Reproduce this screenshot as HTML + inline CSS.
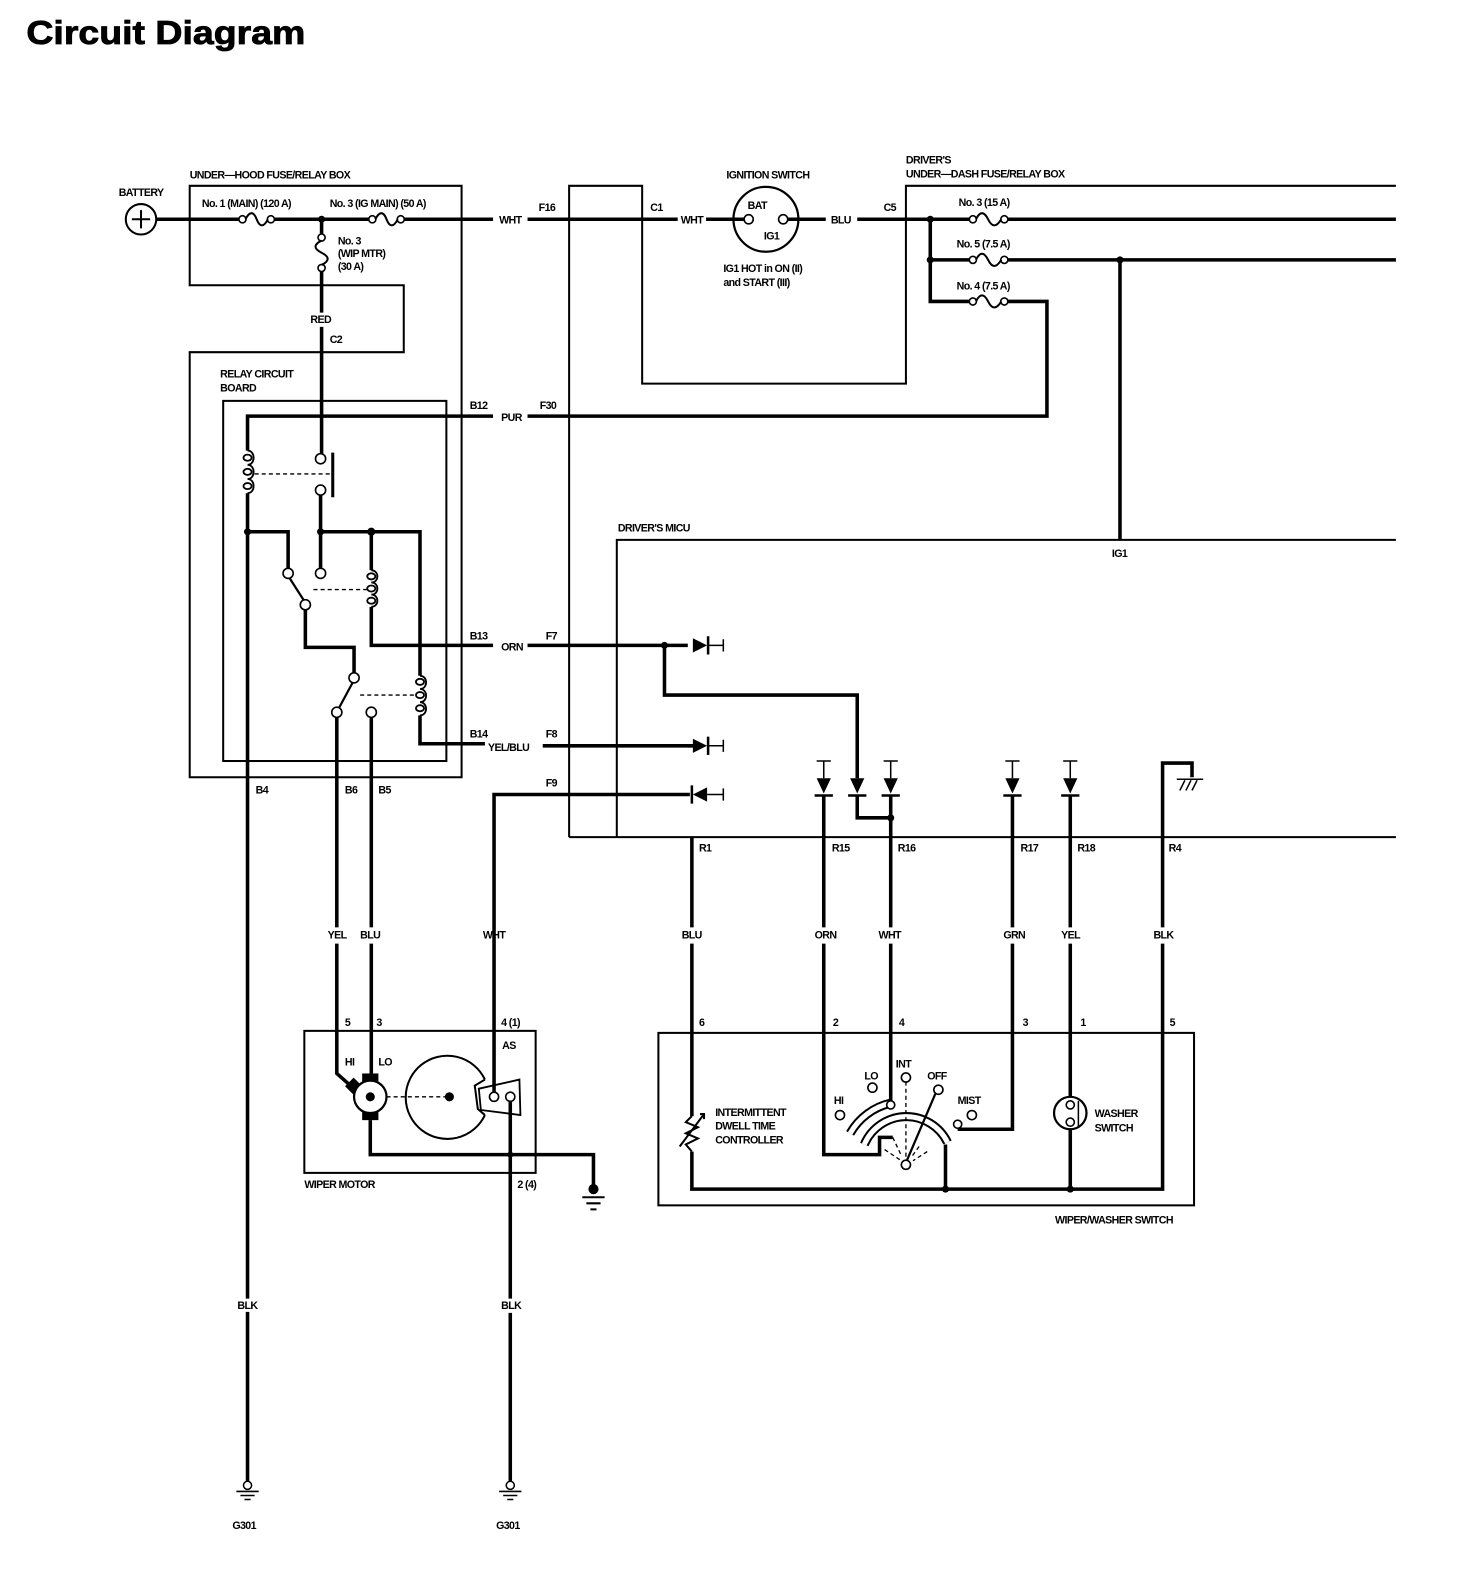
<!DOCTYPE html>
<html><head><meta charset="utf-8"><style>
html,body{margin:0;padding:0;background:#fff;}
svg{display:block}
text{font-family:"Liberation Sans",sans-serif;font-weight:bold;font-size:10.5px;letter-spacing:-0.6px;fill:#000}
.w{fill:none;stroke:#000;stroke-width:3.5;stroke-linejoin:miter}
.b{fill:none;stroke:#000;stroke-width:2}
.t{fill:none;stroke:#000;stroke-width:1.5}
.d{fill:none;stroke:#000;stroke-width:1.3;stroke-dasharray:4 3}
.c{fill:#fff;stroke:#000;stroke-width:1.6}
</style></head><body>
<svg width="1472" height="1590" viewBox="0 0 1451 1567" xmlns="http://www.w3.org/2000/svg">
<text x="26" y="43" textLength="275" lengthAdjust="spacingAndGlyphs" style="font-size:33px;letter-spacing:0;stroke:#000;stroke-width:0.8">Circuit Diagram</text>

<!-- boxes -->
<path class="b" d="M187,281 V183 H455 V766 H187 V347 H398 V281 Z"/>
<rect class="b" x="220" y="395" width="220" height="355"/>
<path class="b" d="M561,825 V183 H633 V378 H893 V183 H1376"/>
<path class="b" d="M561,825 H1376"/>
<path class="b" d="M608,825 V532 H1376"/>
<rect class="b" x="300" y="1016" width="228" height="140"/>
<rect class="b" x="649" y="1018" width="528" height="170"/>

<!-- battery -->
<circle cx="139" cy="216" r="15" fill="#fff" stroke="#000" stroke-width="2"/>
<path class="t" d="M130,216 H148 M139,207 V225" style="stroke-width:2"/>

<!-- main line -->
<path class="w" d="M154,216 H236 M270,216 H364 M398,216 H486 M520,216 H668 M696,216 H723 M787,216 H814 M845,216 H956 M993,216 H1376"/>
<!-- fuses -->
<g class="t" style="stroke-width:2">
<circle class="c" cx="239" cy="216" r="3.5"/><circle class="c" cx="267" cy="216" r="3.5"/>
<path d="M242,216 C246,208 250,208 253,216 S260,224 264,216"/>
<circle class="c" cx="367" cy="216" r="3.5"/><circle class="c" cx="395" cy="216" r="3.5"/>
<path d="M370,216 C374,208 378,208 381,216 S388,224 392,216"/>
<circle class="c" cx="317" cy="234" r="3.5"/><circle class="c" cx="317" cy="264" r="3.5"/>
<path d="M317,237 C309,241 309,245 317,249 S325,257 317,261"/>
<circle class="c" cx="959" cy="216" r="3.5"/><circle class="c" cx="990" cy="216" r="3.5"/>
<path d="M962,216 C966,208 970,208 974,216 S982,224 987,216"/>
<circle class="c" cx="959" cy="256" r="3.5"/><circle class="c" cx="990" cy="256" r="3.5"/>
<path d="M962,256 C966,248 970,248 974,256 S982,264 987,256"/>
<circle class="c" cx="959" cy="297" r="3.5"/><circle class="c" cx="990" cy="297" r="3.5"/>
<path d="M962,297 C966,289 970,289 974,297 S982,305 987,297"/>
</g>
<circle cx="317" cy="216" r="3.5"/>
<path class="w" d="M317,216 V230 M317,268 V308 M317,322 V450"/>

<!-- ignition switch -->
<circle cx="755" cy="216" r="32" fill="#fff" stroke="#000" stroke-width="2.2"/>
<circle class="c" cx="738" cy="216" r="4.5"/><circle class="c" cx="772" cy="216" r="4.5"/>
<path class="w" d="M723,216 H734 M776,216 H787"/>

<!-- under-dash -->
<circle cx="917" cy="216" r="3.5"/><circle cx="917" cy="256" r="3.5"/><circle cx="1104" cy="256" r="3.5"/>
<path class="w" d="M917,216 V297 H956 M917,256 H956 M993,256 H1376 M993,297 H1032 V410 H520 M486,410 H244 V444"/>
<path class="w" d="M1104,256 V532"/>

<!-- relay board -->
<g class="t" style="stroke-width:1.8">
<path d="M244,444 c8,0 8,14 0,14 c8,0 8,14 0,14 c8,0 8,14 0,14"/>
<ellipse cx="244" cy="451" rx="4" ry="3"/><ellipse cx="244" cy="465" rx="4" ry="3"/><ellipse cx="244" cy="479" rx="4" ry="3"/>
<path d="M366,562 c8,0 8,12 0,12 c8,0 8,12 0,12 c8,0 8,12 0,12"/>
<ellipse cx="366" cy="568" rx="4" ry="3"/><ellipse cx="366" cy="580" rx="4" ry="3"/><ellipse cx="366" cy="592" rx="4" ry="3"/>
<path d="M414,666 c8,0 8,13 0,13 c8,0 8,13 0,13 c8,0 8,13 0,13"/>
<ellipse cx="414" cy="672" rx="4" ry="3"/><ellipse cx="414" cy="685" rx="4" ry="3"/><ellipse cx="414" cy="698" rx="4" ry="3"/>
</g>
<path class="w" d="M244,486 V1280 M244,1293 V1460"/>
<path class="w" d="M316,454 V450 M316,486 V560 M244,524 H284 V560 M316,524 H414 V666 M366,524 V562 M366,598 V636 H486 M520,636 H678"/>
<path style="stroke:#000;stroke-width:3" d="M328,446 V490"/>
<path class="d" d="M251,467 H328"/>
<circle class="c" cx="316" cy="452" r="5"/><circle class="c" cx="316" cy="483" r="5"/>
<circle cx="244" cy="524" r="3.5"/><circle cx="316" cy="524" r="3.5"/><circle cx="366" cy="524" r="4"/>
<path class="t" style="stroke-width:2.2" d="M285,569 L301,594"/>
<path class="w" d="M301,600 V638 H349 V664"/>
<circle class="c" cx="284" cy="565" r="5"/><circle class="c" cx="316" cy="565" r="5"/><circle class="c" cx="301" cy="596" r="5"/>
<path class="d" d="M362,581 H306"/>
<path class="t" style="stroke-width:2.2" d="M348,672 L334,698"/>
<circle class="c" cx="349" cy="668" r="5"/><circle class="c" cx="332" cy="702" r="5"/><circle class="c" cx="366" cy="702" r="5"/>
<path class="d" d="M408,685 H352"/>
<path class="w" d="M414,705 V733 H478 M535,735 H683"/>
<path class="w" d="M332,707 V914 M332,930 V1058 L350,1074 M366,707 V914 M366,930 V1065"/>

<!-- motor -->
<g transform="rotate(-45 350 1072)"><rect x="344" y="1064" width="12" height="14"/></g>
<rect x="357" y="1058" width="16" height="11"/>
<rect x="357" y="1093" width="16" height="11"/>
<circle cx="365" cy="1081" r="16" fill="#fff" stroke="#000" stroke-width="2.2"/>
<circle cx="365" cy="1081" r="4.5"/>
<path class="d" d="M381,1081 H443"/>
<circle cx="443" cy="1081" r="4.5"/>
<path fill="none" stroke="#000" stroke-width="2" d="M478,1064 A41,41 0 1 0 478,1099"/>
<path class="b" d="M478,1064 L468,1070 L471,1093 L478,1099"/>
<path fill="#fff" stroke="#000" stroke-width="1.8" d="M472,1073 L512,1064 L513,1099 L474,1094 Z"/>
<circle class="c" cx="487" cy="1081" r="4.5"/><circle class="c" cx="503" cy="1081" r="4.5"/>
<path class="w" d="M487,1077 V914 M487,930 V783 H680"/>
<path class="w" d="M503,1085 V1280 M503,1294 V1460"/>
<path class="w" d="M365,1104 V1138 H585 V1168"/>
<circle cx="503" cy="1138" r="3"/>
<circle cx="585" cy="1172" r="5"/>
<path class="b" d="M574,1180 H596 M578,1186 H592 M582,1192 H588"/>

<!-- grounds G301 -->
<circle cx="244" cy="1464" r="4" fill="#fff" stroke="#000" stroke-width="1.5"/>
<path class="t" d="M233,1470 H255 M237,1474 H251 M241,1478 H247"/>
<circle cx="503" cy="1464" r="4" fill="#fff" stroke="#000" stroke-width="1.5"/>
<path class="t" d="M492,1470 H514 M496,1474 H510 M500,1478 H506"/>

<!-- diodes horizontal -->
<g>
<path class="w" d="M655,636 V685 H845 V767"/>
<circle cx="655" cy="636" r="3.5"/>
<path d="M683,629 L697,636 L683,643 Z"/><path style="stroke:#000;stroke-width:2.5" d="M698,627 V645"/><path class="t" d="M698,636 H713 M713,630 V642"/>
<path class="w" d="M678,735 H683"/>
<path d="M683,728 L697,735 L683,742 Z"/><path style="stroke:#000;stroke-width:2.5" d="M698,726 V744"/><path class="t" d="M698,735 H713 M713,729 V741"/>
<path style="stroke:#000;stroke-width:2.5" d="M682,774 V792"/><path d="M697,776 L683,783 L697,790 Z"/><path class="t" d="M697,783 H713 M713,777 V789"/>
</g>
<!-- diodes vertical -->
<g>
<path class="t" d="M805,750 H819 M812,750 V767"/><path d="M805,767 L819,767 L812,782 Z"/><path style="stroke:#000;stroke-width:2.5" d="M803,784 H821"/>
<path d="M838,767 L852,767 L845,782 Z"/><path style="stroke:#000;stroke-width:2.5" d="M836,784 H854"/>
<path class="t" d="M871,750 H885 M878,750 V767"/><path d="M871,767 L885,767 L878,782 Z"/><path style="stroke:#000;stroke-width:2.5" d="M869,784 H887"/>
<path class="t" d="M991,750 H1005 M998,750 V767"/><path d="M991,767 L1005,767 L998,782 Z"/><path style="stroke:#000;stroke-width:2.5" d="M989,784 H1007"/>
<path class="t" d="M1048,750 H1062 M1055,750 V767"/><path d="M1048,767 L1062,767 L1055,782 Z"/><path style="stroke:#000;stroke-width:2.5" d="M1046,784 H1064"/>
</g>
<path class="w" d="M845,785 V806 H878"/><circle cx="878" cy="806" r="3.5"/>
<path class="w" d="M812,785 V914 M812,930 V1138 H867 V1121 H880"/>
<path class="w" d="M878,785 V914 M878,930 V1086"/>
<path class="w" d="M998,785 V914 M998,930 V1113 H944"/>
<path class="w" d="M1055,785 V914 M1055,930 V1089 M1055,1106 V1172"/>
<path class="w" d="M1146,914 V752 H1175 V766 M1146,930 V1172 H682 V1135 M682,1100 V930 M682,914 V825"/>
<path class="t" d="M1160,768 H1186 M1163,779 L1168,769 M1169,779 L1174,769 M1175,779 L1180,769"/>
<circle cx="932" cy="1172" r="3.5"/>
<path class="w" d="M932,1172 V1128"/>

<!-- resistor -->
<path class="t" style="stroke-width:2" d="M682,1100 L676,1106 L688,1111 L676,1117 L688,1122 L676,1128 L682,1135 M670,1130 L694,1098 M690,1098 H694 V1103"/>

<!-- wiper switch -->
<path fill="none" stroke="#000" stroke-width="9" d="M838,1117 A62,62 0 0 1 879,1087"/>
<path fill="none" stroke="#fff" stroke-width="5" d="M838,1117 A62,62 0 0 1 879,1087"/>
<path fill="none" stroke="#000" stroke-width="9" d="M852,1128 A45,45 0 0 1 934,1126"/>
<path fill="none" stroke="#fff" stroke-width="5" d="M852,1128 A45,45 0 0 1 934,1126"/>
<path class="d" d="M893,1066 V1142 M880,1121 L889,1140 M872,1133 L887,1143 M906,1130 L898,1141 M914,1135 L900,1144"/>
<path class="t" style="stroke-width:2.2" d="M893,1146 L922,1078"/>
<circle class="c" cx="828" cy="1099" r="4.5"/><circle class="c" cx="860" cy="1072" r="4.5"/>
<circle class="c" cx="893" cy="1062" r="4.5"/><circle class="c" cx="925" cy="1074" r="4.5"/>
<circle class="c" cx="958" cy="1099" r="4.5"/><circle class="c" cx="893" cy="1148" r="4.5"/>
<circle class="c" cx="944" cy="1108" r="4"/>
<circle class="c" cx="878" cy="1089" r="4"/>
<!-- washer -->
<circle cx="1055" cy="1097" r="16" fill="#fff" stroke="#000" stroke-width="2.2"/>
<circle class="c" cx="1055" cy="1089" r="4"/><circle class="c" cx="1055" cy="1106" r="4"/>
<path class="t" d="M1063,1085 V1110"/>
<circle cx="1055" cy="1172" r="3.5"/>

<!-- labels -->
<text x="117" y="193">BATTERY</text>
<text x="187" y="176">UNDER—HOOD FUSE/RELAY BOX</text>
<text x="199" y="204">No. 1 (MAIN) (120 A)</text>
<text x="325" y="204">No. 3 (IG MAIN) (50 A)</text>
<text x="333" y="241">No. 3</text><text x="333" y="253">(WIP MTR)</text><text x="333" y="266">(30 A)</text>
<text x="492" y="220">WHT</text><text x="531" y="208">F16</text>
<text x="641" y="208">C1</text><text x="671" y="220">WHT</text>
<text x="716" y="176">IGNITION SWITCH</text>
<text x="737" y="206">BAT</text><text x="753" y="236">IG1</text>
<text x="713" y="268">IG1 HOT in ON (II)</text><text x="713" y="282">and START (III)</text>
<text x="819" y="220">BLU</text><text x="871" y="208">C5</text>
<text x="893" y="161">DRIVER'S</text><text x="893" y="175">UNDER—DASH FUSE/RELAY BOX</text>
<text x="945" y="203">No. 3 (15 A)</text><text x="943" y="244">No. 5 (7.5 A)</text><text x="943" y="285">No. 4 (7.5 A)</text>
<text x="306" y="318">RED</text><text x="325" y="338">C2</text>
<text x="217" y="372">RELAY CIRCUIT</text><text x="217" y="386">BOARD</text>
<text x="463" y="403">B12</text><text x="532" y="403">F30</text><text x="494" y="415">PUR</text>
<text x="609" y="524">DRIVER'S MICU</text><text x="1096" y="549">IG1</text>
<text x="463" y="630">B13</text><text x="538" y="630">F7</text><text x="494" y="641">ORN</text>
<text x="463" y="727">B14</text><text x="538" y="727">F8</text><text x="481" y="740">YEL/BLU</text>
<text x="538" y="775">F9</text>
<text x="252" y="782">B4</text><text x="340" y="782">B6</text><text x="373" y="782">B5</text>
<text x="689" y="839">R1</text><text x="820" y="839">R15</text><text x="885" y="839">R16</text>
<text x="1006" y="839">R17</text><text x="1062" y="839">R18</text><text x="1152" y="839">R4</text>
<text x="323" y="925">YEL</text><text x="355" y="925">BLU</text><text x="476" y="925">WHT</text>
<text x="672" y="925">BLU</text><text x="803" y="925">ORN</text><text x="866" y="925">WHT</text>
<text x="989" y="925">GRN</text><text x="1046" y="925">YEL</text><text x="1137" y="925">BLK</text>
<text x="340" y="1011">5</text><text x="371" y="1011">3</text><text x="494" y="1011">4 (1)</text>
<text x="495" y="1034">AS</text><text x="340" y="1050">HI</text><text x="373" y="1050">LO</text>
<text x="300" y="1171">WIPER MOTOR</text><text x="510" y="1171">2 (4)</text>
<text x="689" y="1011">6</text><text x="821" y="1011">2</text><text x="886" y="1011">4</text>
<text x="1008" y="1011">3</text><text x="1065" y="1011">1</text><text x="1153" y="1011">5</text>
<text x="705" y="1100">INTERMITTENT</text><text x="705" y="1113">DWELL TIME</text><text x="705" y="1127">CONTROLLER</text>
<text x="822" y="1088">HI</text><text x="852" y="1064">LO</text><text x="883" y="1052">INT</text>
<text x="914" y="1064">OFF</text><text x="944" y="1088">MIST</text>
<text x="1079" y="1101">WASHER</text><text x="1079" y="1115">SWITCH</text>
<text x="1040" y="1206">WIPER/WASHER SWITCH</text>
<text x="234" y="1290">BLK</text><text x="494" y="1290">BLK</text>
<text x="229" y="1507">G301</text><text x="489" y="1507">G301</text>
</svg>
</body></html>
